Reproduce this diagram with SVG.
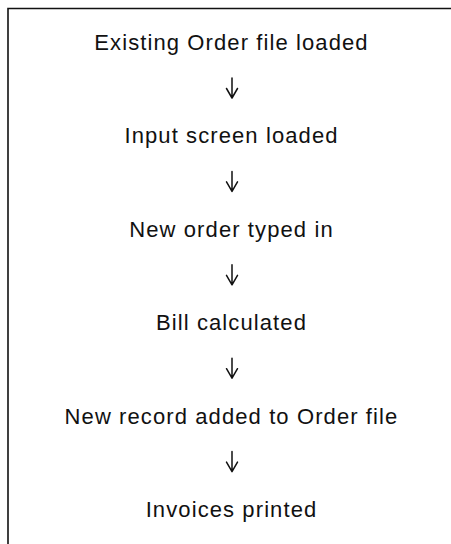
<svg xmlns="http://www.w3.org/2000/svg" width="451" height="544" viewBox="0 0 451 544">
  <style>
    .step { font-family: "Liberation Sans", Arial, Helvetica, sans-serif; font-size: 22px; letter-spacing: 1.1px; fill: #111; text-anchor: middle; }
    .frame { stroke: #111; stroke-width: 1.6; fill: none; }
    .flow { stroke: #111; stroke-width: 1.5; fill: none; stroke-linecap: round; stroke-linejoin: round; }
  </style>
  <defs>
    <!-- one downward arrow: shaft plus open chevron head -->
    <path id="down" d="M0 0 V20 M-5.5 10.5 L0 20 L5.5 10.5"/>
  </defs>
  <rect width="451" height="544" fill="#fff"/>

  <!-- open frame: top and left edges only -->
  <path class="frame" d="M8 544 V8.5 H451"/>

  <g id="step1"><text class="step" x="231.5" y="50">Existing Order file loaded</text></g>
  <g id="step2"><text class="step" x="231.5" y="143.4">Input screen loaded</text></g>
  <g id="step3"><text class="step" x="231.5" y="236.8">New order typed in</text></g>
  <g id="step4"><text class="step" x="231.5" y="330.2">Bill calculated</text></g>
  <g id="step5"><text class="step" x="231.5" y="423.6">New record added to Order file</text></g>
  <g id="step6"><text class="step" x="231.5" y="517">Invoices printed</text></g>

  <g id="connectors" class="flow">
    <use href="#down" x="232" y="78"/>
    <use href="#down" x="232" y="171.4"/>
    <use href="#down" x="232" y="264.8"/>
    <use href="#down" x="232" y="358.2"/>
    <use href="#down" x="232" y="451.6"/>
  </g>
</svg>
